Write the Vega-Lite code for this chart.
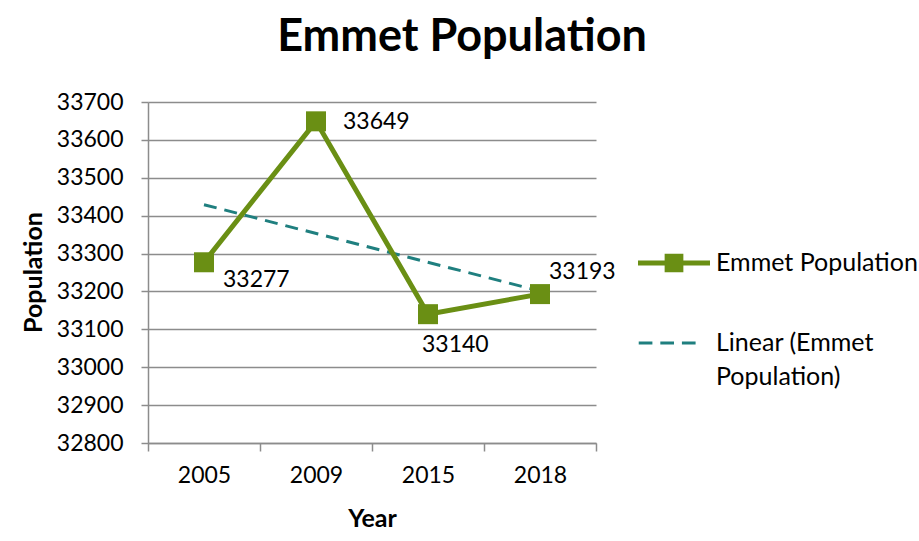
{
  "$schema": "https://vega.github.io/schema/vega-lite/v6.json",
  "width": 448,
  "height": 341,
  "autosize": {"type": "none"},
  "padding": {"left": 148, "top": 102, "right": 323, "bottom": 98},
  "background": "white",
  "title": {
    "text": "Emmet Population",
    "fontSize": 45,
    "fontWeight": "bold",
    "font": "Lato",
    "color": "black",
    "anchor": "middle",
    "dx": 90,
    "offset": -5,
    "baseline": "alphabetic"
  },
  "data": {
    "values": [
      {"year": "2005", "series": "Emmet Population", "value": 33277},
      {"year": "2009", "series": "Emmet Population", "value": 33649},
      {"year": "2015", "series": "Emmet Population", "value": 33140},
      {"year": "2018", "series": "Emmet Population", "value": 33193},
      {"year": "2005", "series": "Linear (Emmet Population)", "value": 33429},
      {"year": "2018", "series": "Linear (Emmet Population)", "value": 33201}
    ]
  },
  "encoding": {
    "x": {
      "field": "year",
      "type": "ordinal",
      "scale": {"type": "band", "paddingInner": 0, "paddingOuter": 0, "domain": ["2005", "2009", "2015", "2018"]},
      "axis": {
        "title": "Year",
        "labelAngle": 0,
        "tickBand": "extent",
        "grid": false,
        "tickSize": 8,
        "labelPadding": 13,
        "titleX": 224,
        "titleY": 75,
        "titleBaseline": "middle",
        "titleAlign": "center"
      }
    },
    "y": {
      "field": "value",
      "type": "quantitative",
      "scale": {"domain": [32800, 33700], "nice": false, "zero": false},
      "axis": {
        "title": "Population",
        "values": [32800, 32900, 33000, 33100, 33200, 33300, 33400, 33500, 33600, 33700],
        "format": "d",
        "tickSize": 7,
        "labelPadding": 18,
        "grid": true,
        "titleX": -115,
        "titleY": 170,
        "titleAngle": 270,
        "titleBaseline": "middle",
        "titleAlign": "center"
      }
    }
  },
  "layer": [
    {
      "transform": [{"filter": "datum.series === 'Linear (Emmet Population)'"}],
      "mark": {"type": "line", "strokeWidth": 3, "strokeDash": [13, 8]},
      "encoding": {
        "color": {
          "field": "series",
          "type": "nominal",
          "scale": {"domain": ["Emmet Population", "Linear (Emmet Population)"], "range": ["#6A8F14", "#1F7F7F"]},
          "legend": {
            "title": null,
            "orient": "none",
            "legendX": 490,
            "legendY": 125,
            "symbolSize": 5184,
            "labelOffset": 6,
            "rowPadding": 31,
            "labelFontSize": 25,
            "labelFont": "Lato",
            "labelColor": "black",
            "labelLimit": 400,
            "labelExpr": "datum.label === 'Linear (Emmet Population)' ? ['Linear (Emmet', 'Population)'] : datum.label",
            "encode": {
              "symbols": {
                "update": {
                  "shape": {"signal": "datum.value === 'Emmet Population' ? 'M-1,-0.07H1V0.07H-1Z M-0.26,-0.26H0.26V0.26H-0.26Z' : 'M-0.98,-0.045H-0.6V0.045H-0.98Z M-0.38,-0.045H0V0.045H-0.38Z M0.22,-0.045H0.6V0.045H0.22Z'"},
                  "fill": {"signal": "datum.value === 'Emmet Population' ? '#6A8F14' : '#1F7F7F'"},
                  "stroke": {"value": "transparent"},
                  "strokeWidth": {"value": 0},
                  "opacity": {"value": 1}
                }
              },
              "labels": {
                "update": {
                  "lineHeight": {"value": 34}
                }
              }
            }
          }
        }
      }
    },
    {
      "transform": [{"filter": "datum.series === 'Emmet Population'"}],
      "mark": {"type": "line", "strokeWidth": 5, "strokeJoin": "miter"},
      "encoding": {
        "color": {"field": "series", "type": "nominal"}
      }
    },
    {
      "transform": [{"filter": "datum.series === 'Emmet Population'"}],
      "mark": {"type": "point", "shape": "square", "filled": true, "size": 400, "opacity": 1, "color": "#6A8F14"},
      "encoding": {}
    },
    {
      "transform": [{"filter": "datum.series === 'Emmet Population' && datum.year === '2005'"}],
      "mark": {"type": "text", "align": "left", "baseline": "middle", "dx": 19, "dy": 18, "fontSize": 23, "font": "Lato", "color": "black"},
      "encoding": {"text": {"field": "value", "type": "quantitative", "format": "d"}}
    },
    {
      "transform": [{"filter": "datum.series === 'Emmet Population' && datum.year === '2009'"}],
      "mark": {"type": "text", "align": "left", "baseline": "middle", "dx": 27, "dy": 1, "fontSize": 23, "font": "Lato", "color": "black"},
      "encoding": {"text": {"field": "value", "type": "quantitative", "format": "d"}}
    },
    {
      "transform": [{"filter": "datum.series === 'Emmet Population' && datum.year === '2015'"}],
      "mark": {"type": "text", "align": "left", "baseline": "middle", "dx": -6, "dy": 31, "fontSize": 23, "font": "Lato", "color": "black"},
      "encoding": {"text": {"field": "value", "type": "quantitative", "format": "d"}}
    },
    {
      "transform": [{"filter": "datum.series === 'Emmet Population' && datum.year === '2018'"}],
      "mark": {"type": "text", "align": "left", "baseline": "middle", "dx": 9, "dy": -22, "fontSize": 23, "font": "Lato", "color": "black"},
      "encoding": {"text": {"field": "value", "type": "quantitative", "format": "d"}}
    }
  ],
  "config": {
    "font": "Lato",
    "view": {"stroke": null},
    "axis": {
      "labelFont": "Lato",
      "labelFontSize": 23,
      "labelColor": "black",
      "titleFont": "Lato",
      "titleFontSize": 25,
      "titleFontWeight": "bold",
      "titleColor": "black",
      "domainColor": "#8C8C8C",
      "domainWidth": 1.5,
      "tickColor": "#8C8C8C",
      "tickWidth": 1.5,
      "gridColor": "#8C8C8C",
      "gridWidth": 1.5
    }
  }
}
